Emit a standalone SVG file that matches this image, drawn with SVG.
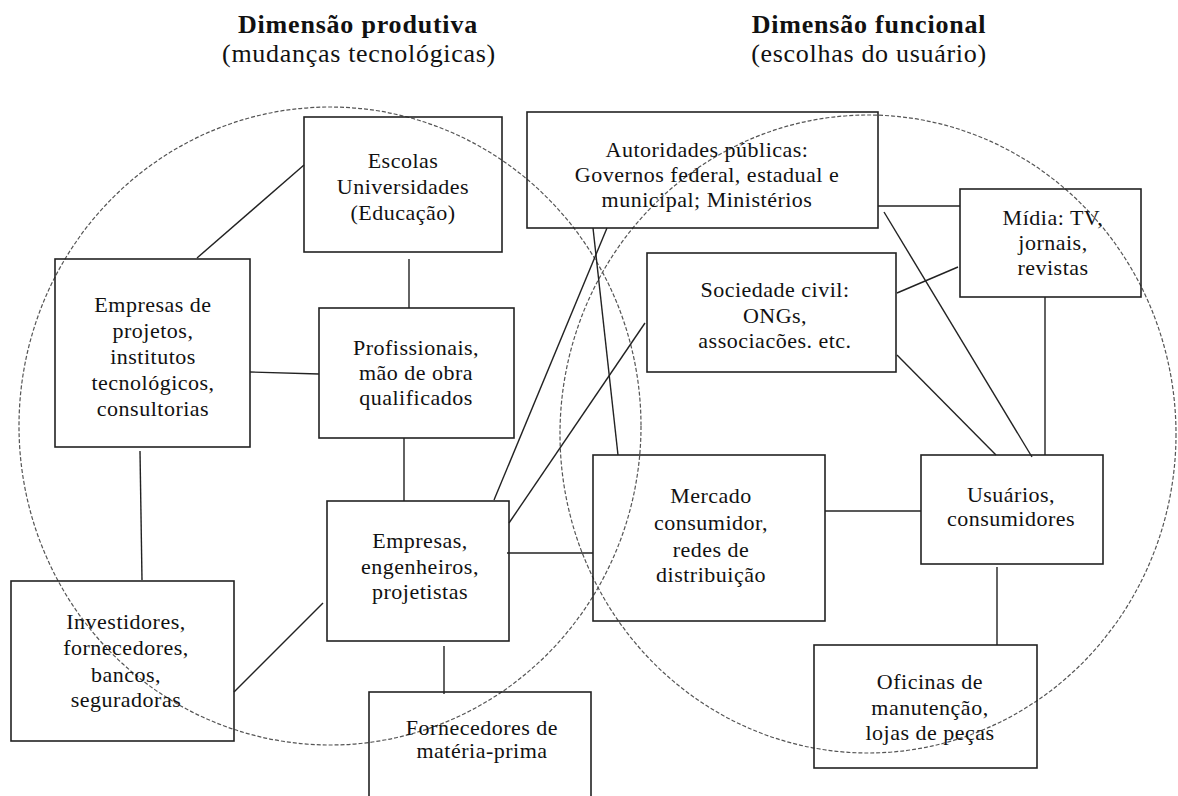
<svg xmlns="http://www.w3.org/2000/svg" width="1178" height="796" viewBox="0 0 1178 796">
<style>
.bg{fill:#ffffff}
.circ{fill:none;stroke:#555;stroke-width:1.2;stroke-dasharray:4 2}
.box{fill:none;stroke:#222;stroke-width:1.6}
.ln{stroke:#222;stroke-width:1.4;fill:none}
.t{font-family:"Liberation Serif","Times New Roman",serif;font-size:22px;fill:#111;text-anchor:middle;letter-spacing:0.5px}
.h{font-family:"Liberation Serif","Times New Roman",serif;font-size:26px;font-weight:bold;fill:#111;text-anchor:middle;letter-spacing:0.8px}
.s{font-family:"Liberation Serif","Times New Roman",serif;font-size:26px;fill:#111;text-anchor:middle;letter-spacing:0.7px}
</style>
<rect class="bg" x="0" y="0" width="1178" height="796"/>
<g id="titles">
<text class="h" x="358" y="33">Dimensão produtiva</text>
<text class="s" x="359" y="62">(mudanças tecnológicas)</text>
<text class="h" x="869" y="33">Dimensão funcional</text>
<text class="s" x="869" y="62">(escolhas do usuário)</text>
</g>
<g id="circles">
<ellipse class="circ" cx="330" cy="426" rx="311" ry="319"/>
<ellipse class="circ" cx="868" cy="434" rx="308" ry="319"/>
</g>
<g id="connectors">
<line class="ln" x1="304" y1="165" x2="197" y2="258"/>
<line class="ln" x1="409" y1="259" x2="409" y2="308"/>
<line class="ln" x1="250" y1="372" x2="319" y2="374"/>
<line class="ln" x1="140" y1="451" x2="142" y2="580"/>
<line class="ln" x1="404" y1="438" x2="404" y2="501"/>
<line class="ln" x1="234" y1="692" x2="323" y2="603"/>
<line class="ln" x1="444" y1="646" x2="444" y2="694"/>
<line class="ln" x1="494" y1="500" x2="607" y2="228"/>
<line class="ln" x1="509" y1="523" x2="645" y2="323"/>
<line class="ln" x1="507" y1="553" x2="593" y2="553"/>
<line class="ln" x1="593" y1="228" x2="618" y2="455"/>
<line class="ln" x1="878" y1="206" x2="960" y2="206"/>
<line class="ln" x1="884" y1="212" x2="1032" y2="457"/>
<line class="ln" x1="897" y1="293" x2="958" y2="267"/>
<line class="ln" x1="897" y1="355" x2="996" y2="455"/>
<line class="ln" x1="1045" y1="297" x2="1045" y2="455"/>
<line class="ln" x1="825" y1="511" x2="921" y2="511"/>
<line class="ln" x1="997" y1="567" x2="997" y2="645"/>
</g>
<g id="escolas">
<rect class="box" x="304" y="117" width="198" height="135"/>
<text class="t" x="403" y="168">Escolas</text>
<text class="t" x="403" y="194">Universidades</text>
<text class="t" x="403" y="220">(Educação)</text>
</g>
<g id="empresas-projetos">
<rect class="box" x="55" y="259" width="195" height="188"/>
<text class="t" x="153" y="312">Empresas de</text>
<text class="t" x="153" y="338">projetos,</text>
<text class="t" x="153" y="364">institutos</text>
<text class="t" x="153" y="390">tecnológicos,</text>
<text class="t" x="153" y="416">consultorias</text>
</g>
<g id="profissionais">
<rect class="box" x="319" y="308" width="195" height="130"/>
<text class="t" x="416" y="355">Profissionais,</text>
<text class="t" x="416" y="380">mão de obra</text>
<text class="t" x="416" y="405">qualificados</text>
</g>
<g id="autoridades">
<rect class="box" x="527" y="112" width="351" height="116"/>
<text class="t" x="707" y="157">Autoridades públicas:</text>
<text class="t" x="707" y="182">Governos federal, estadual e</text>
<text class="t" x="707" y="207">municipal; Ministérios</text>
</g>
<g id="midia">
<rect class="box" x="960" y="189" width="181" height="108"/>
<text class="t" x="1053" y="225">Mídia: TV,</text>
<text class="t" x="1053" y="250">jornais,</text>
<text class="t" x="1053" y="275">revistas</text>
</g>
<g id="sociedade">
<rect class="box" x="647" y="253" width="249" height="119"/>
<text class="t" x="775" y="297">Sociedade civil:</text>
<text class="t" x="775" y="323">ONGs,</text>
<text class="t" x="775" y="348">associacões. etc.</text>
</g>
<g id="empresas-engenheiros">
<rect class="box" x="327" y="501" width="182" height="140"/>
<text class="t" x="420" y="548">Empresas,</text>
<text class="t" x="420" y="574">engenheiros,</text>
<text class="t" x="420" y="599">projetistas</text>
</g>
<g id="investidores">
<rect class="box" x="11" y="581" width="223" height="160"/>
<text class="t" x="126" y="629">Investidores,</text>
<text class="t" x="126" y="655">fornecedores,</text>
<text class="t" x="126" y="682">bancos,</text>
<text class="t" x="126" y="707">seguradoras</text>
</g>
<g id="fornecedores">
<rect class="box" x="369" y="692" width="222" height="120"/>
<text class="t" x="482" y="735">Fornecedores de</text>
<text class="t" x="482" y="758">matéria-prima</text>
</g>
<g id="mercado">
<rect class="box" x="593" y="455" width="232" height="166"/>
<text class="t" x="711" y="503">Mercado</text>
<text class="t" x="711" y="530">consumidor,</text>
<text class="t" x="711" y="557">redes de</text>
<text class="t" x="711" y="582">distribuição</text>
</g>
<g id="usuarios">
<rect class="box" x="921" y="455" width="182" height="109"/>
<text class="t" x="1011" y="502">Usuários,</text>
<text class="t" x="1011" y="526">consumidores</text>
</g>
<g id="oficinas">
<rect class="box" x="814" y="645" width="223" height="123"/>
<text class="t" x="930" y="689">Oficinas de</text>
<text class="t" x="930" y="715">manutenção,</text>
<text class="t" x="930" y="740">lojas de peças</text>
</g>
</svg>
